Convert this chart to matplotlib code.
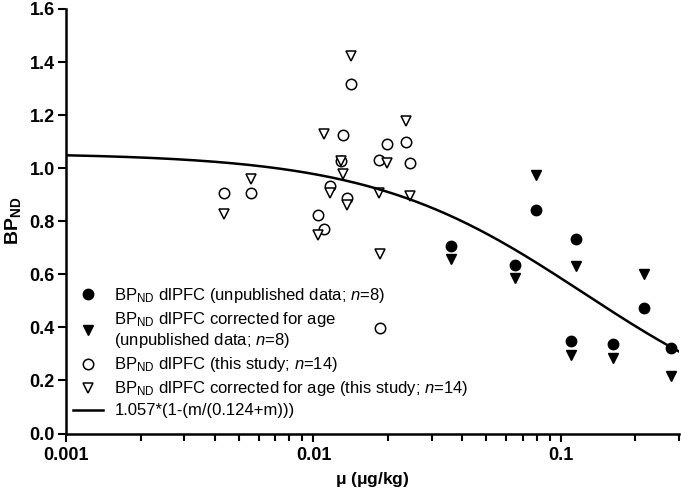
import numpy as np
import matplotlib
matplotlib.use('Agg')
import matplotlib.pyplot as plt
from matplotlib.ticker import FixedLocator, LogLocator, NullFormatter

plt.rcParams['font.family'] = ['Liberation Sans', 'DejaVu Sans']
plt.rcParams['mathtext.fontset'] = 'custom'
plt.rcParams['mathtext.rm'] = 'Liberation Sans'
plt.rcParams['mathtext.it'] = 'Liberation Sans:italic'
plt.rcParams['mathtext.bf'] = 'Liberation Sans:bold'

# unpublished data (n=8)
x_unpub = [0.0359, 0.0653, 0.0793, 0.115, 0.110, 0.162, 0.217, 0.279]
bp_unpub = [0.706, 0.636, 0.843, 0.733, 0.348, 0.337, 0.474, 0.321]
bp_unpub_age = [0.656, 0.586, 0.973, 0.633, 0.296, 0.286, 0.602, 0.218]

# this study (n=14)
x_study = [0.00433, 0.00559, 0.01045, 0.01100, 0.01164, 0.01286, 0.01314,
           0.01368, 0.01412, 0.01837, 0.01850, 0.01988, 0.02357, 0.02454]
bp_study = [0.905, 0.908, 0.824, 0.771, 0.933, 1.027, 1.125,
            0.887, 1.318, 1.030, 0.398, 1.090, 1.100, 1.021]
bp_study_age = [0.827, 0.961, 0.749, 1.127, 0.908, 1.027, 0.977,
                0.862, 1.421, 0.905, 0.678, 1.018, 1.177, 0.896]

# fitted curve parameters
bp_max = 1.057
ic50 = 0.124

fig = plt.figure(figsize=(6.82, 4.97), dpi=100)
ax = fig.add_axes([0.0968, 0.1277, 0.8988, 0.8543])

ms = 7.5
ax.plot(x_unpub, bp_unpub, 'o', color='black', ms=ms, ls='none',
        label=r'BP$_{\mathrm{ND}}$ dlPFC (unpublished data; $n$=8)')
ax.plot(x_unpub, bp_unpub_age, 'v', color='black', ms=ms, ls='none',
        label='BP$_{\\mathrm{ND}}$ dlPFC corrected for age\n(unpublished data; $n$=8)')
ax.plot(x_study, bp_study, 'o', mfc='white', mec='black', mew=1.1, ms=ms, ls='none',
        label=r'BP$_{\mathrm{ND}}$ dlPFC (this study; $n$=14)')
ax.plot(x_study, bp_study_age, 'v', mfc='white', mec='black', mew=1.1, ms=ms, ls='none',
        label=r'BP$_{\mathrm{ND}}$ dlPFC corrected for age (this study; $n$=14)')

m = np.logspace(-3, np.log10(0.3), 300)
ax.plot(m, bp_max * (1 - (m / (ic50 + m))), color='black', lw=1.8,
        label='1.057*(1-(m/(0.124+m)))')

ax.set_xscale('log')
ax.set_xlim(0.001, 0.3)
ax.set_ylim(0, 1.6)

ax.xaxis.set_major_locator(FixedLocator([0.001, 0.01, 0.1]))
ax.set_xticklabels(['0.001', '0.01', '0.1'])
ax.xaxis.set_minor_locator(LogLocator(base=10, subs=np.arange(2, 10)))
ax.xaxis.set_minor_formatter(NullFormatter())
ax.set_yticks(np.arange(0, 1.61, 0.2))
ax.set_yticklabels(['%.1f' % v for v in np.arange(0, 1.61, 0.2)])

for s in ['top', 'right']:
    ax.spines[s].set_visible(False)
for s in ['left', 'bottom']:
    ax.spines[s].set_linewidth(1.8)

ax.tick_params(which='major', length=6, width=1.5, labelsize=13, pad=2)
ax.tick_params(axis='x', which='major', pad=4)
ax.tick_params(which='minor', length=5, width=1.5)
for lbl in ax.get_xticklabels() + ax.get_yticklabels():
    lbl.set_fontweight('bold')

ax.set_xlabel(r'$\mathbf{\mu}$ ($\mathbf{\mu}$g/kg)', fontsize=12.5, fontweight='bold', labelpad=4)
ax.set_ylabel(r'$\mathbf{BP}_{\mathbf{ND}}$', fontsize=14, labelpad=5)

ax.legend(loc='lower left', bbox_to_anchor=(0.0, 0.02), frameon=False, fontsize=12,
          handlelength=1.8, handletextpad=0.7, labelspacing=0.3, borderpad=0.2,
          borderaxespad=0.2)

fig.savefig('out.png', dpi=100)
